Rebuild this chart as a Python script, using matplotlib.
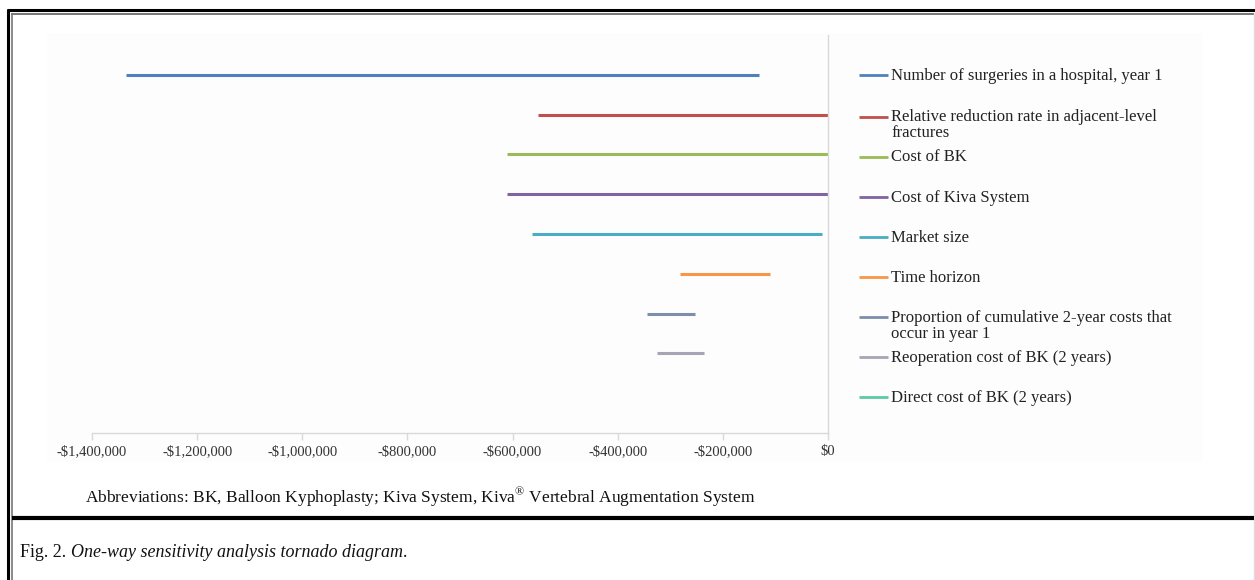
import matplotlib
matplotlib.use("Agg")
import matplotlib.pyplot as plt
from matplotlib.lines import Line2D
from matplotlib.patches import Rectangle

plt.rcParams['font.family'] = ['Liberation Serif', 'DejaVu Serif']
plt.rcParams['mathtext.fontset'] = 'custom'
plt.rcParams['mathtext.rm'] = 'Liberation Serif'

# parameters, top to bottom
labels = [
    'Number of surgeries in a hospital, year 1',
    'Relative reduction rate in adjacent-level\nfractures',
    'Cost of BK',
    'Cost of Kiva System',
    'Market size',
    'Time horizon',
    'Proportion of cumulative 2-year costs that\noccur in year 1',
    'Reoperation cost of BK (2 years)',
    'Direct cost of BK (2 years)',
]
low = [-1335000, -552000, -611000, -611000, -563000, -282000, -344000, -326000, -290000]
high = [-131000, 0, 0, 0, -11000, -110000, -253000, -235000, -290000]
colors = ['#4F81BD', '#C0504D', '#9BBB59', '#8064A2', '#4BACC6',
          '#F79646', '#7E8EAA', '#A5A5B5', '#5CC9A7']
ticks = list(range(-1400000, 1, 200000))

W, H = 1255, 580
fig = plt.figure(figsize=(W / 100, H / 100), dpi=100)


def fx(px):
    return px / W


def fy(py):
    return 1 - py / H


# faint chart area
fig.add_artist(Rectangle((fx(47), fy(462)), fx(1203) - fx(47), fy(33) - fy(462),
                         transform=fig.transFigure, fc='#fdfdfd', ec='none', zorder=0))

ax = fig.add_axes([fx(92), fy(433), fx(828) - fx(92), fy(35) - fy(433)])
ax.patch.set_alpha(0)

for i, (lo, hi, c) in enumerate(zip(low, high, colors)):
    ax.plot([lo, hi], [i, i], color=c, lw=2.2, solid_capstyle='butt')

ax.set_xlim(ticks[0], ticks[-1])
ax.set_ylim(len(labels), -1)
ax.set_yticks([])
ax.set_xticks(ticks)
ax.set_xticklabels(['$0' if t == 0 else '-${:,}'.format(-t) for t in ticks])
ax.tick_params(axis='x', direction='out', length=5, width=1, color='#d9d9d9',
               labelsize=10.5, labelcolor='#333333', pad=4)
for s in ['top', 'left']:
    ax.spines[s].set_visible(False)
for s in ['bottom', 'right']:
    ax.spines[s].set_color('#d9d9d9')
    ax.spines[s].set_linewidth(1)

# legend, one entry per row on the right
legend_y = [75, 116.5, 156.5, 197, 237, 277, 317, 357, 397]
for lab, c, py in zip(labels, colors, legend_y):
    y = fy(py)
    fig.add_artist(Line2D([fx(859), fx(888)], [y, y], transform=fig.transFigure,
                          color=c, lw=2, solid_capstyle='butt'))
    fig.text(fx(891), fy(py - 7.5), lab, fontsize=12, color='#222222',
             ha='left', va='top', linespacing=1.0)

fig.text(fx(85), fy(498), 'Abbreviations: BK, Balloon Kyphoplasty; Kiva System, '
         'Kiva$^{\\mathrm{\u00ae}}$ Vertebral Augmentation System', fontsize=12.5,
         color='#111111', ha='left', va='center')

# caption: upright + italic + upright
t1 = fig.text(fx(20), fy(557), 'Fig. 2. ', fontsize=13, color='#111111',
              ha='left', va='baseline')
t2 = ax.annotate('One-way sensitivity analysis tornado diagram', xy=(1, 0),
                 xycoords=t1, fontsize=13, style='italic', color='#111111',
                 ha='left', va='bottom', annotation_clip=False)
ax.annotate('.', xy=(1, 0), xycoords=t2, fontsize=13, color='#111111',
            ha='left', va='bottom', annotation_clip=False)


# frame lines
def hline(y, x0, x1, c, lw):
    fig.add_artist(Line2D([fx(x0), fx(x1)], [fy(y), fy(y)], transform=fig.transFigure,
                          color=c, lw=lw, solid_capstyle='butt'))


def vline(x, y0, y1, c, lw):
    fig.add_artist(Line2D([fx(x), fx(x)], [fy(y0), fy(y1)], transform=fig.transFigure,
                          color=c, lw=lw, solid_capstyle='butt'))


hline(10.3, 7, 1255, '#000000', 2.2)
hline(13.7, 11, 1254, '#777777', 1.4)
vline(8, 9, 580, '#000000', 2.2)
vline(11.8, 13, 580, '#777777', 1.2)
vline(1254, 13, 580, '#dddddd', 1)
hline(518, 12, 1254, '#000000', 3)

fig.savefig('out.png', dpi=100)
